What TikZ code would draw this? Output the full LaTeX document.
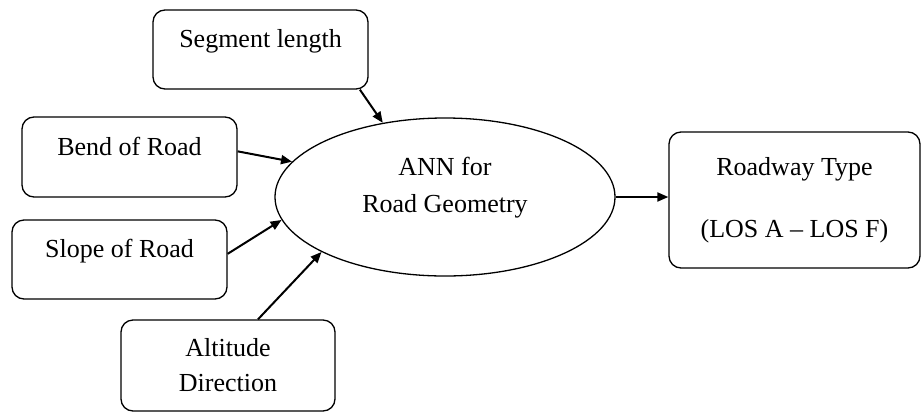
\documentclass[tikz,border=0pt]{standalone}
\usepackage{fontspec}
\setmainfont{Liberation Serif}
\usetikzlibrary{arrows.meta,shapes.geometric}

\tikzset{
    inbox/.style={draw, line width=1.3pt, rounded corners=12pt, inner sep=0pt,
        minimum width=215pt, minimum height=79pt, align=center},
    oneline/.style={text height=18pt, text depth=22pt},
    annbox/.style={draw, ellipse, line width=1.3pt, inner sep=0pt,
        minimum width=340pt, minimum height=158pt},
    feed/.style={line width=2pt, -{Triangle[length=11pt,width=9pt]}}
}

\begin{document}
\begin{tikzpicture}[x=1pt, y=-1pt, font=\fontsize{26}{31}\selectfont]
        \useasboundingbox (0,0) rectangle (921,413);
        \node[inbox, oneline] (seg) at (260.5,49.5) {Segment length};
        \node[inbox, oneline, minimum height=80pt] (bend) at (129.5,157) {Bend of Road};
        \node[inbox, oneline] (slope) at (119.5,259.5) {Slope of Road};
        \node[inbox, minimum width=214pt, minimum height=91pt] (alt) at (228,365.5) {Altitude\\[4pt]Direction};
        \node[inbox, minimum width=251pt, minimum height=136pt] (road) at (794.5,200) {Roadway Type\\[31pt](LOS A -- LOS F)};
        \node[annbox, label={[align=center, yshift=9.5pt]center:ANN for\\[6pt]Road Geometry}] (ann) at (445,197) {};
        \foreach \src/\from/\to in {seg/-22/130, bend/3/167, slope/3/188, alt/57/204}{
            \draw[feed] (\src.\from) -- (ann.\to);
        }
        \draw[feed] (ann.east) -- (ann.east -| road.west);
    \end{tikzpicture}
\end{document}
